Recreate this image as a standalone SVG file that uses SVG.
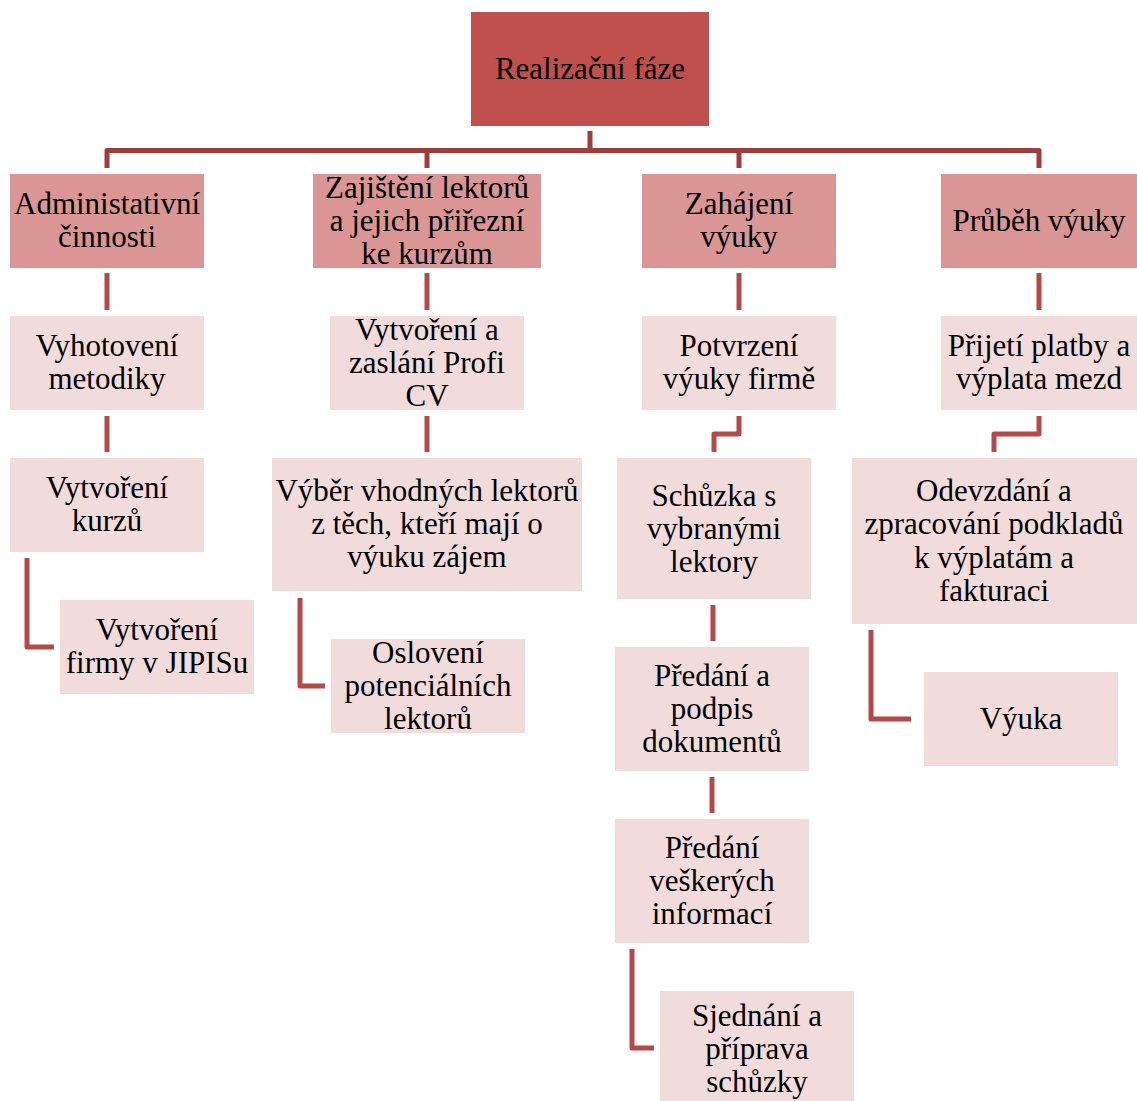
<svg xmlns="http://www.w3.org/2000/svg" width="1137" height="1101" viewBox="0 0 1137 1101">
  <style>
    .root { fill: #C0504D; }
    .l1 { fill: #D99694; }
    .box { fill: #F2DCDB; }
    text { font-family: "Liberation Serif", "Times New Roman", serif; font-size: 31px; fill: #000; text-anchor: middle; }
    .top { fill: none; stroke: #9E3E3C; stroke-width: 5; stroke-linejoin: round; }
    .link { fill: none; stroke: #B44A47; stroke-width: 5; stroke-linejoin: round; }
  </style>
  <rect width="1137" height="1101" fill="#FFFFFF"/>

  <!-- connectors -->
  <g id="connectors">
    <path class="top" d="M590 131 V150.5 M107 168 V150.5 H1039 V168 M427 150.5 V168 M739 150.5 V168"/>
    <path class="link" d="M107 273 V310"/>
    <path class="link" d="M427 273 V310"/>
    <path class="link" d="M739 273 V310"/>
    <path class="link" d="M1039 273 V310"/>
    <path class="link" d="M107 416 V452"/>
    <path class="link" d="M427 416 V452"/>
    <path class="link" d="M739 416 V434 H714 V452"/>
    <path class="link" d="M1039 416 V434 H994 V452"/>
    <path class="link" d="M27 558 V647 H54"/>
    <path class="link" d="M300 598 V686 H325"/>
    <path class="link" d="M713 605 V641"/>
    <path class="link" d="M871 630 V719 H911"/>
    <path class="link" d="M712 777 V813"/>
    <path class="link" d="M632 949 V1048 H654"/>
  </g>

  <g id="realizacni-faze">
    <rect class="root" x="471" y="12" width="238" height="114"/>
    <text x="590" y="79">Realizační fáze</text>
  </g>

  <g id="administrativni-cinnosti">
    <rect class="l1" x="10" y="174" width="194" height="94"/>
    <text x="107" y="214">Administativní</text>
    <text x="107" y="247">činnosti</text>
  </g>
  <g id="zajisteni-lektoru">
    <rect class="l1" x="313" y="174" width="228" height="94"/>
    <text x="427" y="198">Zajištění lektorů</text>
    <text x="427" y="231">a jejich přiřezní</text>
    <text x="427" y="264">ke kurzům</text>
  </g>
  <g id="zahajeni-vyuky">
    <rect class="l1" x="642" y="174" width="194" height="94"/>
    <text x="739" y="214">Zahájení</text>
    <text x="739" y="247">výuky</text>
  </g>
  <g id="prubeh-vyuky">
    <rect class="l1" x="941" y="174" width="196" height="94"/>
    <text x="1039" y="231">Průběh výuky</text>
  </g>

  <g id="vyhotoveni-metodiky">
    <rect class="box" x="10" y="316" width="194" height="94"/>
    <text x="107" y="356">Vyhotovení</text>
    <text x="107" y="389">metodiky</text>
  </g>
  <g id="zaslani-profi-cv">
    <rect class="box" x="330" y="316" width="194" height="94"/>
    <text x="427" y="340">Vytvoření a</text>
    <text x="427" y="373">zaslání Profi</text>
    <text x="427" y="406">CV</text>
  </g>
  <g id="potvrzeni-vyuky">
    <rect class="box" x="642" y="316" width="194" height="94"/>
    <text x="739" y="356">Potvrzení</text>
    <text x="739" y="389">výuky firmě</text>
  </g>
  <g id="prijeti-platby">
    <rect class="box" x="941" y="316" width="196" height="94"/>
    <text x="1039" y="356">Přijetí platby a</text>
    <text x="1039" y="389">výplata mezd</text>
  </g>

  <g id="vytvoreni-kurzu">
    <rect class="box" x="10" y="458" width="194" height="94"/>
    <text x="107" y="498">Vytvoření</text>
    <text x="107" y="531">kurzů</text>
  </g>
  <g id="vyber-lektoru">
    <rect class="box" x="272" y="458" width="310" height="133"/>
    <text x="427" y="501">Výběr vhodných lektorů</text>
    <text x="427" y="534">z těch, kteří mají o</text>
    <text x="427" y="567">výuku zájem</text>
  </g>
  <g id="schuzka-s-lektory">
    <rect class="box" x="617" y="458" width="194" height="141"/>
    <text x="714" y="506">Schůzka s</text>
    <text x="714" y="539">vybranými</text>
    <text x="714" y="572">lektory</text>
  </g>
  <g id="odevzdani-podkladu">
    <rect class="box" x="852" y="458" width="285" height="166"/>
    <text x="994" y="501">Odevzdání a</text>
    <text x="994" y="534">zpracování podkladů</text>
    <text x="994" y="568">k výplatám a</text>
    <text x="994" y="601">fakturaci</text>
  </g>

  <g id="vytvoreni-firmy">
    <rect class="box" x="60" y="600" width="194" height="94"/>
    <text x="157" y="640">Vytvoření</text>
    <text x="157" y="673">firmy v JIPISu</text>
  </g>
  <g id="osloveni-lektoru">
    <rect class="box" x="331" y="639" width="194" height="94"/>
    <text x="428" y="663">Oslovení</text>
    <text x="428" y="696">potenciálních</text>
    <text x="428" y="729">lektorů</text>
  </g>
  <g id="predani-dokumentu">
    <rect class="box" x="615" y="647" width="194" height="124"/>
    <text x="712" y="686">Předání a</text>
    <text x="712" y="719">podpis</text>
    <text x="712" y="752">dokumentů</text>
  </g>
  <g id="vyuka">
    <rect class="box" x="924" y="672" width="194" height="94"/>
    <text x="1021" y="729">Výuka</text>
  </g>

  <g id="predani-informaci">
    <rect class="box" x="615" y="819" width="194" height="124"/>
    <text x="712" y="858">Předání</text>
    <text x="712" y="891">veškerých</text>
    <text x="712" y="924">informací</text>
  </g>
  <g id="sjednani-schuzky">
    <rect class="box" x="660" y="991" width="194" height="120"/>
    <text x="757" y="1026">Sjednání a</text>
    <text x="757" y="1059">příprava</text>
    <text x="757" y="1092">schůzky</text>
  </g>
</svg>
